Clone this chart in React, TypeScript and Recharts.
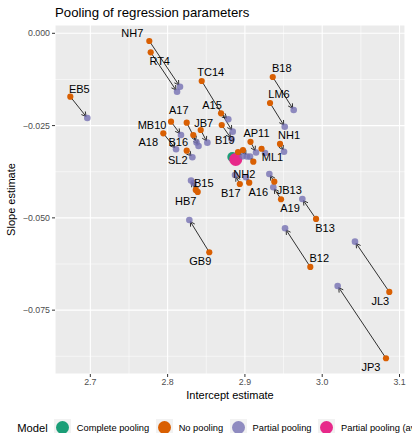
import React from 'react';
import { ScatterChart, Scatter, XAxis, YAxis, CartesianGrid, ReferenceLine } from 'recharts';

// Dark2 palette, as ggplot used it
const GREEN = '#1B9E77';
const ORANGE = '#D95F02';
const PURPLE = '#7570B3';
const PINK = '#E7298A';
const FONT = '"Liberation Sans", Arial, sans-serif';

const SITES = [
  'NH7', 'RT4', 'EB5', 'TC14', 'A15', 'B19', 'B18', 'LM6', 'NH1', 'AP11', 'ML1',
  'MB10', 'A18', 'A17', 'B16', 'JB7', 'SL2', 'NH2', '', '', 'B15', 'HB7', 'B17',
  'A16', 'JB13', 'A19', 'B13', 'GB9', 'B12', 'JL3', 'JP3',
];
const NO_POOL_INTERCEPT = [
  2.7763, 2.7781, 2.6741, 2.8441, 2.8691, 2.87, 2.936, 2.9325, 2.9454, 2.9072, 2.9215,
  2.8044, 2.7944, 2.8247, 2.8332, 2.8428, 2.8247, 2.9109, 2.8911, 2.8975, 2.8364, 2.8389, 2.8934,
  2.9056, 2.938, 2.9467, 2.992, 2.8539, 2.9846, 3.0868, 3.0825,
];
const NO_POOL_SLOPE = [
  -0.00209, -0.00515, -0.01717, -0.01292, -0.02167, -0.02484, -0.01184, -0.01888, -0.02998, -0.02939, -0.03128,
  -0.02394, -0.02709, -0.02421, -0.02755, -0.02619, -0.0318, -0.03478, -0.03215, -0.03161, -0.04244, -0.04298, -0.04082,
  -0.04047, -0.0402, -0.04496, -0.0503, -0.05932, -0.0633, -0.07007, -0.08803,
];
const PARTIAL_INTERCEPT = [
  2.816, 2.8122, 2.6961, 2.8842, 2.8785, 2.8827, 2.9631, 2.9515, 2.9506, 2.9144, 2.926,
  2.8173, 2.8109, 2.84, 2.8374, 2.8514, 2.832, 2.9066, 2.8972, 2.9026, 2.8303, 2.8335, 2.8872,
  2.9014, 2.9316, 2.9367, 2.9743, 2.8281, 2.9519, 3.0424, 3.02,
];
const PARTIAL_SLOPE = [
  -0.01446, -0.01582, -0.02294, -0.02665, -0.02329, -0.02863, -0.02077, -0.0253, -0.03207, -0.03229, -0.03242,
  -0.02755, -0.03142, -0.03053, -0.02958, -0.02963, -0.03359, -0.03342, -0.03332, -0.03339, -0.03987, -0.04055, -0.03838,
  -0.039, -0.03811, -0.04171, -0.04488, -0.05057, -0.05282, -0.05645, -0.06845,
];
const COMPLETE_POOL = { intercept: 2.8837, slope: -0.0335 };
const PARTIAL_AVERAGE = { intercept: 2.8881, slope: -0.03418 };

const X_TICKS = [2.7, 2.8, 2.9, 3.0, 3.1];
const X_MINOR = [2.75, 2.85, 2.95, 3.05];
const Y_TICKS = [0, -0.025, -0.05, -0.075];
const Y_MINOR = [-0.0125, -0.0375, -0.0625, -0.0875];

const MODELS = ['Complete pooling', 'No pooling', 'Partial pooling', 'Partial pooling (average)'];
const MODEL_COLORS = [GREEN, ORANGE, PURPLE, PINK];

// where ggrepel put each label, relative to its point (px)
const LABEL_NUDGE: Record<string, [number, number]> = {
  NH7: [-17, -8], RT4: [9, 9], EB5: [9, -8], TC14: [9, -9], A15: [-9, -8], B19: [3, 15],
  B18: [9, -9], LM6: [9, -9], NH1: [9, -9], AP11: [6, -8.5], ML1: [11, 8.5], MB10: [-19, 3],
  A18: [-15, 9], A17: [-8, -13], B16: [-15, 7], JB7: [3, -7], SL2: [-9, 9], NH2: [-9, 12],
  B15: [8, -7], HB7: [-12, 9], B17: [-9, 9], A16: [9, 9], JB13: [15, 8], A19: [9, 9],
  B13: [9, 9], GB9: [-9, 9], B12: [9, -9], JL3: [-9, 9], JP3: [-15, 9],
};

const noPool = SITES.map((s, i) => ({ site: s, x: NO_POOL_INTERCEPT[i], y: NO_POOL_SLOPE[i] }));
const partial = SITES.map((s, i) => ({ site: s, x: PARTIAL_INTERCEPT[i], y: PARTIAL_SLOPE[i] }));
const complete = [{ x: COMPLETE_POOL.intercept, y: COMPLETE_POOL.slope }];
const average = [{ x: PARTIAL_AVERAGE.intercept, y: PARTIAL_AVERAGE.slope }];

const dot = (r: number, fill: string, opacity = 1) => (p: any) =>
  <circle cx={p.cx} cy={p.cy} r={r} fill={fill} fillOpacity={opacity} />;

const Arrow = (p: any) => {
  const { x1, y1, x2, y2 } = p;
  const dx = x2 - x1, dy = y2 - y1;
  const len = Math.sqrt(dx * dx + dy * dy) || 1;
  const ux = dx / len, uy = dy / len;
  const tx = x2 - ux * 2, ty = y2 - uy * 2;
  const head = 5, a = Math.PI / 6;
  const cos = Math.cos(a), sin = Math.sin(a);
  const h1x = tx - head * (ux * cos - uy * sin), h1y = ty - head * (uy * cos + ux * sin);
  const h2x = tx - head * (ux * cos + uy * sin), h2y = ty - head * (uy * cos - ux * sin);
  return (
    <g stroke="#000" strokeWidth={0.8} fill="none">
      <line x1={x1} y1={y1} x2={tx} y2={ty} />
      <polyline points={`${h1x},${h1y} ${tx},${ty} ${h2x},${h2y}`} />
    </g>
  );
};

const SiteLabel = (p: any) => {
  const n = LABEL_NUDGE[p.payload.site];
  if (!n) return <g />;
  return (
    <text x={p.cx + n[0]} y={p.cy + n[1]} textAnchor="middle" dominantBaseline="central"
      fontSize={11} fontFamily={FONT} fill="#000">{p.payload.site}</text>
  );
};

const XTick = (p: any) => (
  <text x={p.x} y={p.y} dy="0.71em" textAnchor="middle" fontSize={8.8} fontFamily={FONT} fill="#4D4D4D">
    {p.payload.value.toFixed(1)}
  </text>
);

const YTick = (p: any) => {
  const v = p.payload.value;
  const s = v === 0 ? '0.000' : (v < 0 ? '\u2212' : '') + Math.abs(v).toFixed(3);
  return (
    <text x={p.x} y={p.y} dy="0.355em" textAnchor="end" fontSize={8.8} fontFamily={FONT} fill="#4D4D4D">{s}</text>
  );
};

export default function App() {
  return (
    <div style={{ position: 'relative', width: 412, height: 433, overflow: 'hidden', background: '#fff', fontFamily: FONT }}>
      <style>{'body{margin:0}'}</style>
      <ScatterChart width={412} height={433} margin={{ top: 25, right: 7, bottom: 0, left: 0 }}>
        <CartesianGrid fill="#EBEBEB" stroke="#fff" strokeWidth={1.1} />
        {X_MINOR.map((v) => <ReferenceLine key={'xm' + v} x={v} stroke="#fff" strokeWidth={0.55} />)}
        {Y_MINOR.map((v) => <ReferenceLine key={'ym' + v} y={v} stroke="#fff" strokeWidth={0.55} />)}
        <XAxis type="number" dataKey="x" domain={[2.6543, 3.1071]} ticks={X_TICKS} allowDataOverflow
          height={59} axisLine={false} tickSize={3} tickLine={{ stroke: '#333', strokeWidth: 1 }} tick={<XTick />} />
        <YAxis type="number" dataKey="y" domain={[-0.0923, 0.00225]} ticks={Y_TICKS} allowDataOverflow
          width={55} axisLine={false} tickSize={3} tickLine={{ stroke: '#333', strokeWidth: 1 }} tick={<YTick />} />
        <Scatter data={complete} fill={GREEN} shape={dot(5, GREEN)} isAnimationActive={false} />
        <Scatter data={average} fill={PINK} shape={dot(6.5, PINK)} isAnimationActive={false} />
        <Scatter data={partial} fill={PURPLE} shape={dot(3.3, PURPLE, 0.8)} isAnimationActive={false} />
        <Scatter data={noPool} fill={ORANGE} shape={dot(3.1, ORANGE)} isAnimationActive={false} />
        {SITES.map((s, i) => (
          <ReferenceLine key={'a' + i}
            segment={[{ x: NO_POOL_INTERCEPT[i], y: NO_POOL_SLOPE[i] }, { x: PARTIAL_INTERCEPT[i], y: PARTIAL_SLOPE[i] }]}
            ifOverflow="visible" shape={(p: any) => <Arrow {...p} />} />
        ))}
        <Scatter data={noPool} fill="none" shape={(p: any) => <SiteLabel {...p} />} isAnimationActive={false} />
      </ScatterChart>

      <svg width={412} height={433} style={{ position: 'absolute', left: 0, top: 0, pointerEvents: 'none' }}>
        <text x={55} y={17.3} fontSize={13.2} fontFamily={FONT} fill="#000">Pooling of regression parameters</text>
        <text x={230} y={398.5} textAnchor="middle" fontSize={11} fontFamily={FONT} fill="#000">Intercept estimate</text>
        <text transform="translate(15.3,199.5) rotate(-90)" textAnchor="middle" fontSize={11} fontFamily={FONT} fill="#000">Slope estimate</text>
      </svg>

      <div style={{ position: 'absolute', left: 17.3, top: 419, height: 17, display: 'flex', alignItems: 'center', whiteSpace: 'nowrap' }}>
        <span style={{ fontSize: 11.2, marginRight: 6, color: '#000' }}>Model</span>
        {MODELS.map((m, i) => (
          <React.Fragment key={m}>
            <span style={{ width: 17, height: 17, background: '#F2F2F2', display: 'inline-flex', alignItems: 'center', justifyContent: 'center', marginRight: 6, flex: 'none' }}>
              <span style={{ width: 13, height: 13, borderRadius: '50%', background: MODEL_COLORS[i], opacity: i === 2 ? 0.8 : 1 }} />
            </span>
            <span style={{ fontSize: 9.3, marginRight: 6.5, color: '#000' }}>{m}</span>
          </React.Fragment>
        ))}
      </div>
    </div>
  );
}
